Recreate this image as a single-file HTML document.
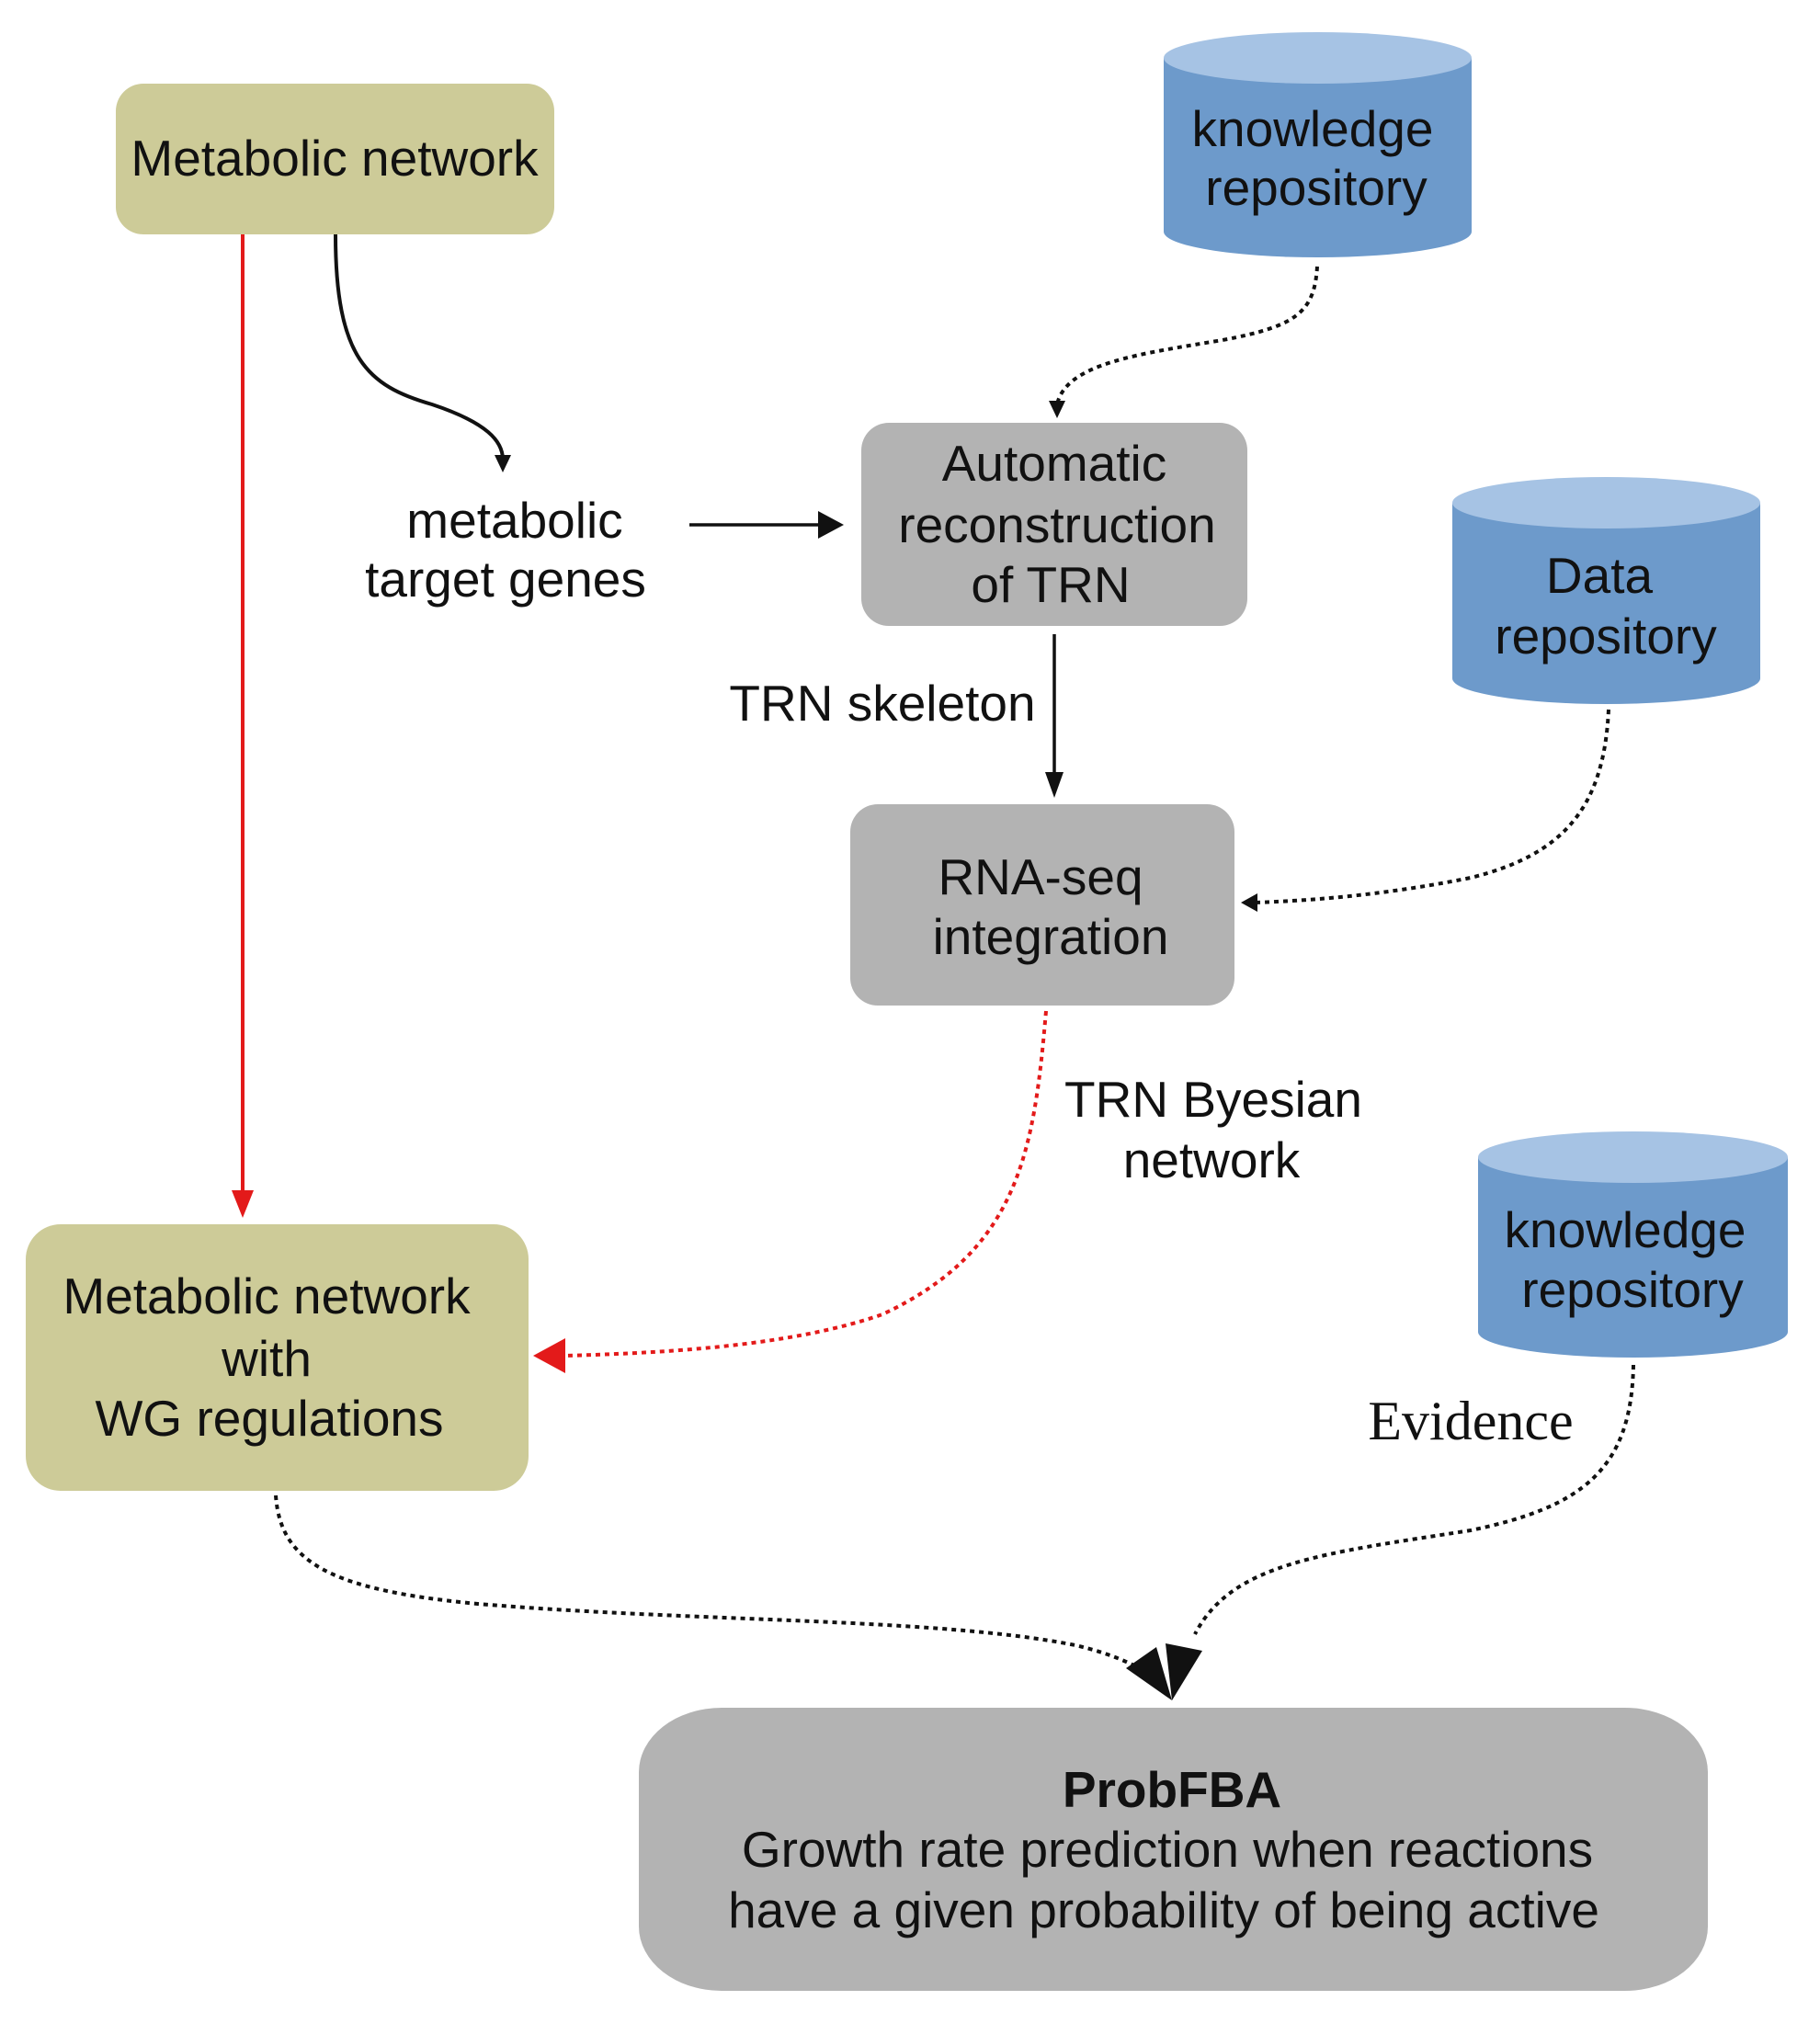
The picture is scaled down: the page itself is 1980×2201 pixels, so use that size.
<!DOCTYPE html>
<html><head><meta charset="utf-8"><style>
html,body{margin:0;padding:0;background:#fff}
svg{display:block}
text{font-family:"Liberation Sans",sans-serif;font-size:55px;fill:#111;text-anchor:middle}
</style></head><body>
<svg width="1980" height="2201" viewBox="0 0 1980 2201" xmlns="http://www.w3.org/2000/svg">
<rect x="126" y="91" width="477" height="164" rx="30" fill="#cdcb98"/>
<text x="364" y="191">Metabolic network</text>

<rect x="937" y="460" width="420" height="221" rx="30" fill="#b3b3b3"/>
<text x="1147" y="523">Automatic</text>
<text x="1150" y="590">reconstruction</text>
<text x="1143" y="655">of TRN</text>

<rect x="925" y="875" width="418" height="219" rx="30" fill="#b3b3b3"/>
<text x="1132" y="973">RNA-seq</text>
<text x="1143" y="1038">integration</text>

<rect x="28" y="1332" width="547" height="290" rx="38" fill="#cdcb98"/>
<text x="290" y="1429">Metabolic network</text>
<text x="290" y="1497">with</text>
<text x="293" y="1562">WG regulations</text>

<rect x="695" y="1858" width="1163" height="308" rx="90" ry="70" fill="#b3b3b3"/>
<text x="1275" y="1966" font-weight="bold">ProbFBA</text>
<text x="1270" y="2031">Growth rate prediction when reactions</text>
<text x="1266" y="2097">have a given probability of being active</text>

<g>
<path d="M1266 63 V252 A167.5 28 0 0 0 1601 252 V63 Z" fill="#6d9acb"/>
<ellipse cx="1433.5" cy="63" rx="167.5" ry="28" fill="#a6c3e4"/>
<text x="1428" y="159">knowledge</text>
<text x="1432" y="223">repository</text>
</g>
<g>
<path d="M1580 547 V738 A167.5 28 0 0 0 1915 738 V547 Z" fill="#6d9acb"/>
<ellipse cx="1747.5" cy="547" rx="167.5" ry="28" fill="#a6c3e4"/>
<text x="1740" y="645">Data</text>
<text x="1747" y="711">repository</text>
</g>
<g>
<path d="M1608 1259 V1449 A168.5 28 0 0 0 1945 1449 V1259 Z" fill="#6d9acb"/>
<ellipse cx="1776.5" cy="1259" rx="168.5" ry="28" fill="#a6c3e4"/>
<text x="1768" y="1357">knowledge</text>
<text x="1776" y="1422">repository</text>
</g>

<text x="560" y="585">metabolic</text>
<text x="550" y="649">target genes</text>
<text x="960" y="784">TRN skeleton</text>
<text x="1320" y="1215">TRN Byesian</text>
<text x="1318" y="1281">network</text>
<text x="1600" y="1566" style="font-family:'Liberation Serif',serif;font-size:60px">Evidence</text>

<line x1="264" y1="255" x2="264" y2="1300" stroke="#e31a1a" stroke-width="4"/>
<polygon points="252,1295 276,1295 264,1325" fill="#e31a1a"/>

<path d="M365 255 C365 390 400 420 470 440 C530 460 547 480 547 500" fill="none" stroke="#111" stroke-width="4"/>
<polygon points="538,495 556,495 547,514" fill="#111"/>

<line x1="750" y1="571" x2="895" y2="571" stroke="#111" stroke-width="3.5"/>
<polygon points="890,556 918,571 890,586" fill="#111"/>

<path d="M1433 290 C1430 340 1410 355 1330 370 C1240 385 1160 395 1150 440" fill="none" stroke="#111" stroke-width="4" stroke-dasharray="5 5"/>
<polygon points="1141,436 1159,436 1150,455" fill="#111"/>

<line x1="1147" y1="690" x2="1147" y2="845" stroke="#111" stroke-width="3.5"/>
<polygon points="1137,840 1157,840 1147,868" fill="#111"/>

<path d="M1750 772 C1745 880 1700 930 1600 955 C1500 975 1420 980 1365 982" fill="none" stroke="#111" stroke-width="4" stroke-dasharray="5 5"/>
<polygon points="1368,972 1368,992 1350,982" fill="#111"/>

<path d="M1138 1100 C1125 1250 1110 1360 960 1430 C860 1465 720 1472 615 1475" fill="none" stroke="#e31a1a" stroke-width="4" stroke-dasharray="5 5"/>
<polygon points="615,1456 615,1494 580,1475" fill="#e31a1a"/>

<path d="M300 1627 C305 1700 360 1730 520 1745 C760 1765 1020 1760 1170 1790 C1200 1797 1220 1805 1240 1815" fill="none" stroke="#111" stroke-width="4" stroke-dasharray="5 5"/>
<polygon points="1225,1815 1258,1792 1275,1850" fill="#111"/>

<path d="M1777 1485 C1775 1600 1720 1640 1600 1665 C1440 1690 1340 1700 1300 1778" fill="none" stroke="#111" stroke-width="4" stroke-dasharray="5 5"/>
<polygon points="1268,1788 1308,1796 1275,1850" fill="#111"/>
</svg>
</body></html>
